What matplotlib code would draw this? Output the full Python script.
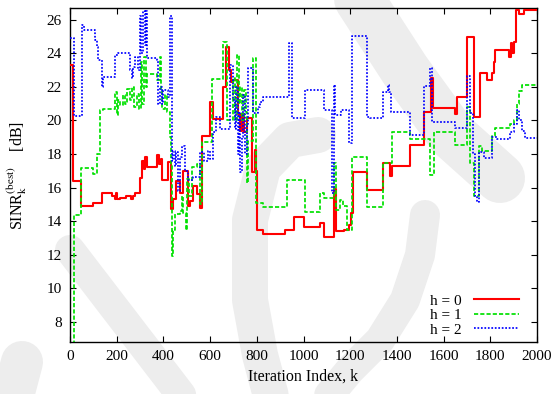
import matplotlib
matplotlib.use('Agg')
import matplotlib.pyplot as plt

plt.rcParams['font.family'] = ['Liberation Serif', 'DejaVu Serif']
plt.rcParams['mathtext.fontset'] = 'stix'

# best SINR per iteration, one staircase per h
x_h0 = [0, 12, 45, 100, 135, 180, 192, 198, 203, 215, 240, 262, 268, 280, 300, 308, 315, 322,
        330, 372, 380, 388, 394, 420, 432, 442, 456, 470, 482, 505, 514, 528, 543, 557, 564,
        600, 612, 655, 668, 681, 690, 698, 720, 728, 736, 744, 757, 780, 792, 797, 800, 827,
        921, 959, 1002, 1071, 1088, 1131, 1140, 1173, 1195, 1203, 1212, 1272, 1341, 1371,
        1378, 1456, 1516, 1546, 1555, 1650, 1657, 1700, 1730, 1756, 1786, 1807, 1815, 1822,
        1880, 1888, 1895, 1902, 1910, 1923, 1944, 2000]
y_h0 = [23.3, 16.4, 14.9, 15.1, 15.7, 15.5, 15.3, 15.7, 15.3, 15.4, 15.5, 15.3, 15.5, 15.7,
        16.6, 17.6, 17.1, 17.8, 17.2, 17.95, 17.4, 17.7, 16.45, 17.5, 14.7, 15.3, 16.4, 15.7,
        17.0, 14.9, 15.2, 16.1, 15.6, 14.8, 19.1, 21.1, 20.1, 22.0, 24.4, 23.0, 22.3, 22.4,
        20.4, 19.4, 20.4, 19.3, 20.15, 16.9, 18.25, 17.0, 13.5, 13.25, 13.5, 14.24, 13.68,
        13.9, 13.05, 15.9, 13.4, 13.45, 13.8, 14.5, 16.9, 15.87, 17.46, 16.7, 17.26, 18.55,
        20.48, 22.5, 20.74, 20.4, 21.39, 24.97, 20.2, 22.8, 22.4, 22.8, 23.5, 24.2, 23.8,
        24.6, 24.0, 24.7, 26.6, 26.36, 26.6, 26.6]

x_h1 = [0, 17, 45, 100, 116, 128, 141, 193, 200, 206, 215, 225, 235, 245, 255, 265, 275, 287,
        295, 303, 310, 318, 325, 330, 372, 385, 389, 395, 405, 415, 428, 433, 437, 442, 450,
        471, 478, 485, 497, 501, 510, 522, 543, 557, 565, 608, 655, 672, 700, 708, 715, 722,
        728, 736, 744, 752, 757, 762, 785, 797, 827, 930, 1006, 1071, 1088, 1131, 1140, 1156,
        1170, 1186, 1208, 1272, 1341, 1379, 1456, 1542, 1559, 1649, 1700, 1713, 1730, 1752,
        1765, 1807, 1818, 1885, 1900, 1914, 1925, 1936, 2000]
y_h1 = [6.5, 14.38, 17.16, 16.8, 18.0, 20.64, 20.7, 21.7, 20.3, 21.2, 20.9, 21.5, 21.0, 21.9,
        21.2, 22.0, 20.8, 21.6, 20.7, 23.5, 21.0, 23.8, 22.0, 22.78, 22.4, 23.8, 21.8, 20.7,
        21.5, 20.5, 19.0, 17.3, 11.9, 13.5, 14.4, 14.6, 15.5, 14.5, 13.5, 16.5, 15.5, 17.2,
        17.4, 15.0, 18.7, 22.47, 24.7, 20.0, 22.5, 20.0, 23.9, 21.0, 22.0, 20.0, 21.8, 20.5,
        16.3, 18.8, 23.7, 15.1, 14.87, 16.46, 14.54, 15.67, 15.37, 17.46, 14.68, 15.27, 14.9,
        13.48, 17.82, 14.87, 17.46, 19.3, 18.9, 16.76, 19.3, 18.55, 20.8, 17.46, 15.47, 18.45,
        18.2, 19.05, 19.58, 19.8, 20.0, 21.0, 21.73, 22.13, 22.13]

x_h2 = [0, 17, 51, 60, 107, 114, 120, 137, 140, 193, 206, 257, 264, 270, 278, 290, 300, 305,
        313, 320, 325, 330, 372, 377, 385, 392, 398, 420, 428, 437, 443, 450, 456, 463, 470,
        480, 492, 505, 527, 557, 575, 590, 600, 612, 625, 642, 685, 698, 705, 712, 718, 724,
        728, 735, 742, 750, 757, 762, 785, 805, 815, 827, 938, 951, 1006, 1088, 1122, 1130,
        1136, 1160, 1195, 1208, 1272, 1285, 1341, 1362, 1367, 1375, 1456, 1516, 1542, 1550,
        1649, 1700, 1712, 1725, 1735, 1743, 1752, 1773, 1807, 1829, 1885, 1900, 1915, 1925,
        1935, 1949, 2000]
y_h2 = [24.9, 20.24, 25.7, 25.4, 24.8, 24.4, 23.6, 22.0, 22.6, 23.9, 24.0, 23.0, 22.5, 23.2,
        23.8, 23.0, 26.2, 24.0, 26.5, 24.5, 26.5, 23.7, 23.6, 21.0, 22.0, 21.0, 21.8, 21.4,
        26.2, 17.6, 18.2, 17.3, 18.1, 15.8, 17.8, 18.5, 17.0, 16.45, 16.66, 18.1, 17.6, 18.2,
        17.7, 19.3, 20.2, 19.5, 23.3, 21.2, 19.5, 22.0, 18.0, 20.5, 16.9, 19.0, 21.5, 18.0,
        19.8, 23.1, 20.44, 20.8, 21.1, 21.39, 24.6, 20.14, 21.83, 20.64, 15.67, 22.13, 20.35,
        20.64, 18.65, 25.05, 20.2, 20.14, 21.67, 22.1, 21.67, 20.48, 19.15, 22.07, 23.12,
        19.88, 19.55, 22.66, 20.44, 18.0, 15.47, 15.17, 18.15, 17.76, 19.0, 18.89, 19.3, 19.8,
        20.64, 20.0, 19.4, 18.95, 18.95]

labels = ['h = 0', 'h = 1', 'h = 2']
x_ticks = list(range(0, 2001, 200))
y_ticks = list(range(8, 27, 2))

W, H = 555, 394
fig = plt.figure(figsize=(W / 100, H / 100), dpi=100)

# faint background emblem, drawn in pixel units on a full-figure axes
bg = fig.add_axes([0, 0, 1, 1], zorder=0)
bg.set_xlim(0, W)
bg.set_ylim(H, 0)
bg.axis('off')
shade = '#ededed'
bands = [
    ([70, 185], [250, 400], 30),
    ([22, 12], [362, 400], 42),
    ([318, 290, 263, 250, 250, 260, 272], [135, 140, 168, 220, 300, 355, 400], 36),
    ([425, 420, 405, 380, 350, 325], [215, 255, 300, 340, 370, 400], 30),
    ([350, 405, 452, 500], [-15, 70, 135, 178], 50),
    ([562, 558, 560], [80, 170, 260], 26),
]
for bx, by, w in bands:
    bg.plot(bx, by, color=shade, lw=w * 0.72, solid_capstyle='round',
            solid_joinstyle='round')

ax = fig.add_axes([70 / W, 1 - 342 / H, 467 / W, 334 / H], zorder=1)
ax.set_facecolor('none')

ax.step(x_h0, y_h0, where='post', color='#ff0000', lw=1.5, label=labels[0], zorder=3)
ax.step(x_h1, y_h1, where='post', color='#00e000', lw=1.25, ls=(0, (2.4, 1.2)),
        label=labels[1], zorder=4)
ax.step(x_h2, y_h2, where='post', color='#0000ff', lw=1.25, ls=(0, (1, 1)),
        label=labels[2], zorder=5)

ax.set_xlim(0, 2000)
ax.set_ylim(6.8, 26.7)
ax.set_xticks(x_ticks)
ax.set_yticks(y_ticks)
ax.tick_params(direction='in', top=True, right=True, length=4.5, width=0.8,
               labelsize=11, pad=6)
for sp in ax.spines.values():
    sp.set_linewidth(1.0)

ax.set_xlabel('Iteration Index, k', fontsize=11.5, labelpad=4)
ax.set_ylabel(r'SINR$_\mathrm{k}^{\mathrm{(best)}}$    [dB]', fontsize=11.5)
ax.yaxis.set_label_coords(-0.088, 0.5)

ax.legend(loc='lower right', frameon=False, markerfirst=False, handlelength=2.9,
          handletextpad=0.8, labelspacing=0.05, fontsize=11,
          bbox_to_anchor=(0.99, -0.025))

fig.savefig('out.png', dpi=100)
